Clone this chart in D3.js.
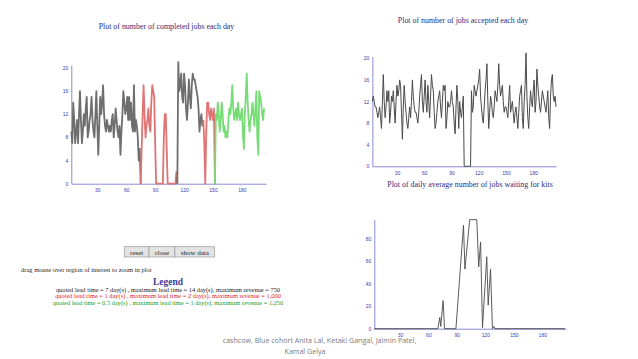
<!DOCTYPE html>
<html>
<head>
<meta charset="utf-8">
<script src="https://cdn.jsdelivr.net/npm/d3@7"></script>
<style>
  body { margin: 0; background: #fff; }
  svg { display: block; }
</style>
</head>
<body>
<div id="chart"></div>
<script>
// ---- data ----
const firstDay = 3;

// completed jobs per day, days 3..203
const completed = [
  9,7,14,11,7,9,11,7,12,16,
  11,7,9,12,10,13,15,8,9,11,
  12,15,11,9,8,12,16,10,5,10,
  15,12,14,17,12,10,9,11,10,9,
  10,9,11,12,8,10,13,11,9,8,
  10,5,9,12,16,14,12,13,15,11,
  15,11,14,10,9,17,9,11,10,8,
  4,6,0,6,12,17,12,8,10,11,
  13,10,9,14,17,16,15,7,0,0,
  0,0,0,0,0,0,8,12,12,6,
  0,0,0,0,0,0,0,0,0,2,
  0,21,16,17,19,15,14,19,17,13,
  11,14,18,15,13,17,19,18,18,17,
  16,15,13,9,11,12,10,11,7,0,
  9,14,14,12,11,13,12,11,13,0,
  12,11,14,12,9,11,14,12,9,10,
  8,9,8,11,13,12,14,17,13,11,
  12,13,11,14,12,11,12,13,9,6,
  12,15,19,14,11,9,11,12,14,12,
  10,13,16,8,5,16,15,14,12,11,
  13
];
// contract in force: first/last day of each period and which contract (0,1,2)
const periodStart = [3, 75, 113, 140, 152];
const periodEnd   = [75, 113, 140, 152, 203];
const periodContract = [0, 1, 0, 1, 2];

// jobs accepted per day, days 3..205
const accepted = [
  12,13,12,11,11,10,9,10,11,9,
  7,12,17,12,9,11,14,12,14,8,
  10,13,12,14,11,8,12,15,13,14,
  16,15,10,5,11,15,12,10,8,7,
  9,11,9,12,16,13,11,10,10,9,
  8,10,13,15,17,12,10,13,16,12,
  10,15,12,9,13,17,15,14,10,7,
  8,10,12,13,14,11,9,12,15,14,
  15,7,9,12,11,11,12,14,12,11,
  8,6,11,15,12,7,12,10,9,11,
  13,0,0,0,0,0,0,0,0,14,
  10,11,15,14,13,14,15,16,18,13,
  11,9,8,11,14,16,19,12,7,10,
  13,12,10,9,11,14,13,12,15,19,
  15,13,14,15,12,10,11,11,10,9,
  12,15,10,11,12,10,8,10,11,9,
  7,10,13,14,15,9,7,12,15,21,
  13,9,7,11,14,12,11,14,16,10,
  12,18,15,13,11,10,12,14,13,12,
  11,10,12,14,9,7,13,16,17,13,
  12,13,11
];

// daily average number of jobs waiting for kits (turning points)
const waitingDays   = [3, 70, 72, 73, 75.5, 77, 89, 97, 98.5, 103.5, 111, 113, 115, 117, 121.5, 123, 125.5, 127.5, 129, 130, 204];
const waitingValues = [0, 0, 10, 2, 25, 0, 0, 92, 53, 97, 97, 55, 77, 1, 64, 21, 53, 0, 2, 0, 0];

const dayTicks = [30, 60, 90, 120, 150, 180];
const jobTicks = [0, 4, 8, 12, 16, 20];
const waitTicks = [0, 20, 40, 60, 80];

const titles = [
  "Plot of number of completed jobs each day",
  "Plot of number of jobs accepted each day",
  "Plot of daily average number of jobs waiting for kits"
];
const buttonLabels = ["reset", "close", "show data"];
const legendLines = [
  "quoted lead time = 7 day(s) , maximum lead time = 14 day(s), maximum revenue = 750",
  "quoted lead time = 1 day(s) , maximum lead time = 2 day(s), maximum revenue = 1,000",
  "quoted lead time = 0.5 day(s) , maximum lead time = 1 day(s), maximum revenue = 1,250"
];
const footer = ["cashcow, Blue cohort Anita Lal, Ketaki Gangal, Jaimin Patel,", "Kamal Gelya"];

// ---- drawing ----
const W = 638, H = 359;
const contractColors = ["#6e6e6e", "#e07474", "#76dc76"];
const legendColors = ["#222", "#d22", "#1a9a1a"];
const axisColor = "#8a8ad8";
const tickColor = "#3a3ab0";
const titleColor = "#2b2b80";
const serif = "Liberation Serif, Times New Roman, serif";

const svg = d3.select("#chart").append("svg")
    .attr("width", W).attr("height", H);
svg.append("rect").attr("width", W).attr("height", H).attr("fill", "#fff");

function panel(cfg) {
  const x = d3.scaleLinear().domain([firstDay, 205]).range(cfg.xr);
  const y = d3.scaleLinear().domain(cfg.yd).range(cfg.yr);
  const g = svg.append("g");

  const ax = g.append("g")
      .attr("transform", `translate(0,${cfg.yr[0]})`)
      .call(d3.axisBottom(x).tickValues(dayTicks).tickSize(0).tickPadding(cfg.xpad));
  const ay = g.append("g")
      .attr("transform", `translate(${cfg.xr[0]},0)`)
      .call(d3.axisLeft(y).tickValues(cfg.ticks).tickSize(0).tickPadding(3));
  [ax, ay].forEach(a => {
    a.select(".domain").attr("stroke", axisColor).attr("stroke-width", 1);
    a.selectAll("text").attr("fill", tickColor)
      .attr("font-family", "Liberation Sans, Arial, sans-serif")
      .attr("font-size", 5);
  });

  g.append("text")
      .attr("x", cfg.tx).attr("y", cfg.ty)
      .attr("text-anchor", "middle")
      .attr("font-family", serif)
      .attr("font-size", 7.9)
      .attr("fill", titleColor)
      .text(cfg.title);
  return {x, y, g};
}

// completed jobs
const p1 = panel({xr: [71.3, 266], yd: [0, 20.5], yr: [183.7, 65], ticks: jobTicks, xpad: 5,
                  tx: 166.5, ty: 28.5, title: titles[0]});
const line1 = d3.line().x(d => p1.x(d[0])).y(d => p1.y(d[1]));
periodStart.forEach((s, k) => {
  const pts = completed.map((v, i) => [firstDay + i, v])
      .filter(d => d[0] >= s && d[0] <= periodEnd[k]);
  p1.g.append("path")
      .attr("d", line1(pts))
      .attr("fill", "none")
      .attr("stroke", contractColors[periodContract[k]])
      .attr("stroke-width", 1.8)
      .attr("stroke-linejoin", "round");
});

// accepted jobs
const p2 = panel({xr: [372.4, 556], yd: [0, 20.3], yr: [166.3, 56.7], ticks: jobTicks, xpad: 5,
                  tx: 463, ty: 22.5, title: titles[1]});
p2.g.append("path")
    .attr("d", d3.line().x((d, i) => p2.x(firstDay + i)).y(d => p2.y(d))(accepted))
    .attr("fill", "none").attr("stroke", "#4a4a4a").attr("stroke-width", 1);

// waiting for kits
const p3 = panel({xr: [374.3, 566], yd: [0, 97.3], yr: [328.7, 219.3], ticks: waitTicks, xpad: 5,
                  tx: 470, ty: 186.5, title: titles[2]});
p3.g.append("path")
    .attr("d", d3.line().x(d => p3.x(d[0])).y(d => p3.y(d[1]))(waitingDays.map((d, i) => [d, waitingValues[i]])))
    .attr("fill", "none").attr("stroke", "#4a4a4a").attr("stroke-width", 0.9);

// buttons
let bx = 124.3;
buttonLabels.forEach(lbl => {
  const b = svg.append("g");
  const t = b.append("text")
      .attr("y", 254.5)
      .attr("font-family", serif)
      .attr("font-size", 7)
      .attr("fill", "#222")
      .text(lbl);
  const w = t.node().getComputedTextLength() + 11.5;
  b.insert("rect", "text")
      .attr("x", bx).attr("y", 246.7).attr("width", w).attr("height", 10.3)
      .attr("fill", "#e3e3e3").attr("stroke", "#9a9a9a").attr("stroke-width", 0.7);
  t.attr("x", bx + 5.75);
  bx += w;
});

svg.append("text")
    .attr("x", 21).attr("y", 271.5)
    .attr("font-family", serif)
    .attr("font-size", 6.5)
    .attr("fill", "#222")
    .text("drag mouse over region of interest to zoom in plot");

svg.append("text")
    .attr("x", 168).attr("y", 284.5)
    .attr("text-anchor", "middle")
    .attr("font-family", serif)
    .attr("font-size", 9.5)
    .attr("font-weight", "bold")
    .attr("fill", "#3b3b9a")
    .text("Legend");

legendLines.forEach((s, i) => {
  svg.append("text")
      .attr("x", 168).attr("y", 292.2 + i * 6.2)
      .attr("text-anchor", "middle")
      .attr("font-family", serif)
      .attr("font-size", 6.4)
      .attr("fill", legendColors[i])
      .text(s);
});

footer.forEach((s, i) => {
  svg.append("text")
      .attr("x", i === 0 ? 319.5 : 305).attr("y", 342.8 + i * 11)
      .attr("text-anchor", "middle")
      .attr("font-family", "Open Sans, Liberation Sans, sans-serif")
      .attr("font-size", 7.1)
      .attr("fill", "#7a7a7a")
      .text(s);
});
</script>
</body>
</html>
